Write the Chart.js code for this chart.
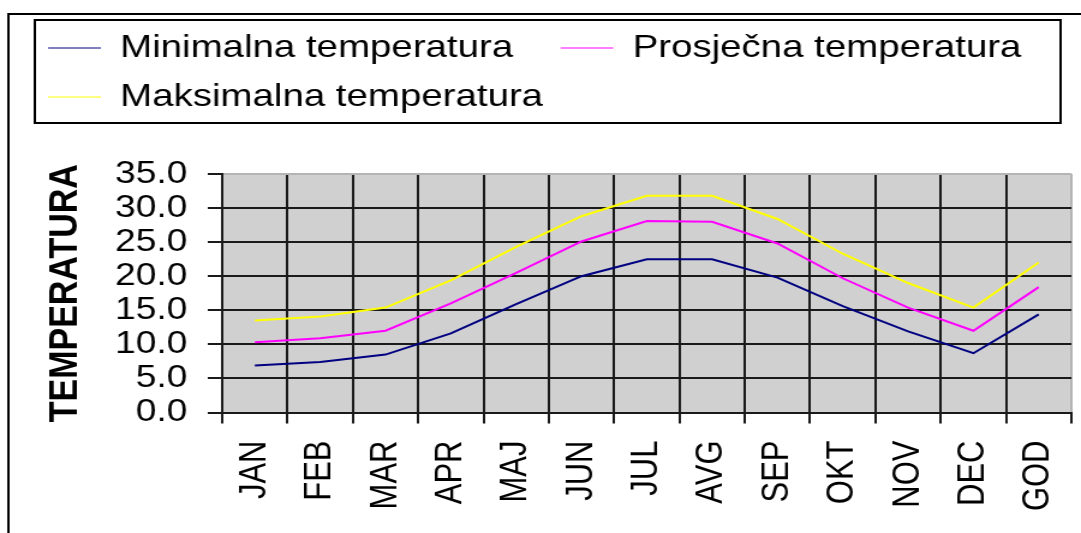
<!DOCTYPE html>
<html>
<head>
<meta charset="utf-8">
<title>Temperatura</title>
<script src="https://cdn.jsdelivr.net/npm/chart.js@4.4.1/dist/chart.umd.min.js"></script>
<style>
    html, body { margin: 0; padding: 0; background: #fff; overflow: hidden; }
    /* graf je u originalu razvučen vodoravno, pa ga i ovdje malo razvučemo */
    #wrap { width: 900px; height: 533px; transform: scaleX(1.2011); transform-origin: 0 0; }
</style>
</head>
<body>
<div id="wrap"><canvas id="chartTemp"></canvas></div>
<script>
// Podaci po mjesecima (GOD = godišnji prosjek)
const mjeseci = ['JAN', 'FEB', 'MAR', 'APR', 'MAJ', 'JUN', 'JUL', 'AVG', 'SEP', 'OKT', 'NOV', 'DEC', 'GOD'];
const minTemp = [6.9, 7.4, 8.5, 11.6, 15.9, 20.0, 22.5, 22.5, 19.8, 15.6, 11.9, 8.7, 14.4];
const prosTemp = [10.3, 10.9, 12.0, 16.0, 20.5, 25.1, 28.1, 28.0, 24.8, 19.7, 15.4, 12.0, 18.4];
const maxTemp = [13.5, 14.1, 15.4, 19.4, 24.3, 28.8, 31.8, 31.8, 28.4, 23.3, 19.0, 15.4, 22.0];
const yTicks = [0, 5, 10, 15, 20, 25, 30, 35];

const FONT = "'Liberation Sans', Arial, sans-serif";
const GRID = '#1a1a1a';
const RUB = '#b4b4b4';

Chart.defaults.font.family = FONT;
Chart.defaults.color = '#000';

// siva pozadina područja grafa
const plotBg = {
    id: 'plotBg',
    beforeDraw(chart) {
        const { ctx, chartArea: a } = chart;
        ctx.save();
        ctx.fillStyle = '#d0d0d0';
        ctx.fillRect(a.left, a.top, a.right - a.left, a.bottom - a.top);
        ctx.restore();
    }
};

// okvir oko cijelog grafa i oko legende
const okviri = {
    id: 'okviri',
    afterDraw(chart) {
        const ctx = chart.ctx;
        ctx.save();
        ctx.strokeStyle = '#000';
        ctx.lineWidth = 2;
        ctx.strokeRect(7, 14, 1000, 600);
        ctx.strokeRect(29, 20, 854, 103);
        ctx.restore();
    }
};

new Chart(document.getElementById('chartTemp'), {
    type: 'line',
    data: {
        labels: mjeseci,
        datasets: [
            { label: 'Minimalna temperatura', data: minTemp, borderColor: '#000080', backgroundColor: '#000080' },
            { label: 'Prosječna temperatura', data: prosTemp, borderColor: '#ff00ff', backgroundColor: '#ff00ff' },
            { label: 'Maksimalna temperatura', data: maxTemp, borderColor: '#ffff00', backgroundColor: '#ffff00' }
        ]
    },
    options: {
        responsive: true,
        maintainAspectRatio: false,
        animation: false,
        layout: { padding: { top: 15, left: 23, right: 8, bottom: 0 } },
        elements: {
            line: { borderWidth: 2, tension: 0, fill: false },
            point: { radius: 0 }
        },
        plugins: {
            tooltip: { enabled: false },
            legend: {
                position: 'top',
                align: 'start',
                labels: {
                    usePointStyle: true,
                    pointStyle: 'line',
                    pointStyleWidth: 44,
                    padding: 17,
                    color: '#000',
                    font: { family: FONT, size: 32 },
                    generateLabels(chart) {
                        const items = Chart.defaults.plugins.legend.labels.generateLabels(chart);
                        items[0].text += '\u2002\u2009'; // malo više razmaka do druge stavke
                        return items;
                    }
                }
            }
        },
        scales: {
            x: {
                offset: true,
                grid: {
                    offset: true,
                    color: c => c.type === 'scale' ? RUB : GRID,
                    lineWidth: 2,
                    tickLength: 11,
                    tickColor: GRID,
                    tickWidth: 2
                },
                border: { color: GRID, width: 2 },
                ticks: {
                    autoSkip: false,
                    minRotation: 90,
                    maxRotation: 90,
                    padding: 17,
                    color: '#000',
                    font: { family: FONT, size: 31 }
                },
                afterFit(scale) {
                    scale.height = 120.5;
                    scale.paddingLeft = 0;
                    scale.paddingRight = 0;
                }
            },
            // prazna os gore, samo da napravi razmak između legende i grafa
            razmak: {
                type: 'category',
                position: 'top',
                grid: { display: false },
                border: { display: false },
                ticks: { display: false },
                afterFit(scale) { scale.height = 51; }
            },
            y: {
                min: yTicks[0],
                max: yTicks[yTicks.length - 1],
                afterBuildTicks(scale) { scale.ticks = yTicks.map(v => ({ value: v })); },
                ticks: {
                    autoSkip: false,
                    padding: 17,
                    color: '#000',
                    font: { family: FONT, size: 31 },
                    callback: v => v.toFixed(1)
                },
                grid: {
                    color: c => (c.tick && c.tick.value === 35) ? RUB : GRID,
                    lineWidth: 2,
                    tickLength: 12,
                    tickColor: GRID,
                    tickWidth: 2
                },
                border: { color: GRID, width: 2 },
                title: {
                    display: true,
                    text: 'TEMPERATURA',
                    color: '#000',
                    font: { family: FONT, size: 34, weight: 'bold' },
                    padding: { top: 11, bottom: 0 }
                },
                afterFit(scale) { scale.width = 162; }
            }
        }
    },
    plugins: [plotBg, okviri]
});
</script>
</body>
</html>
